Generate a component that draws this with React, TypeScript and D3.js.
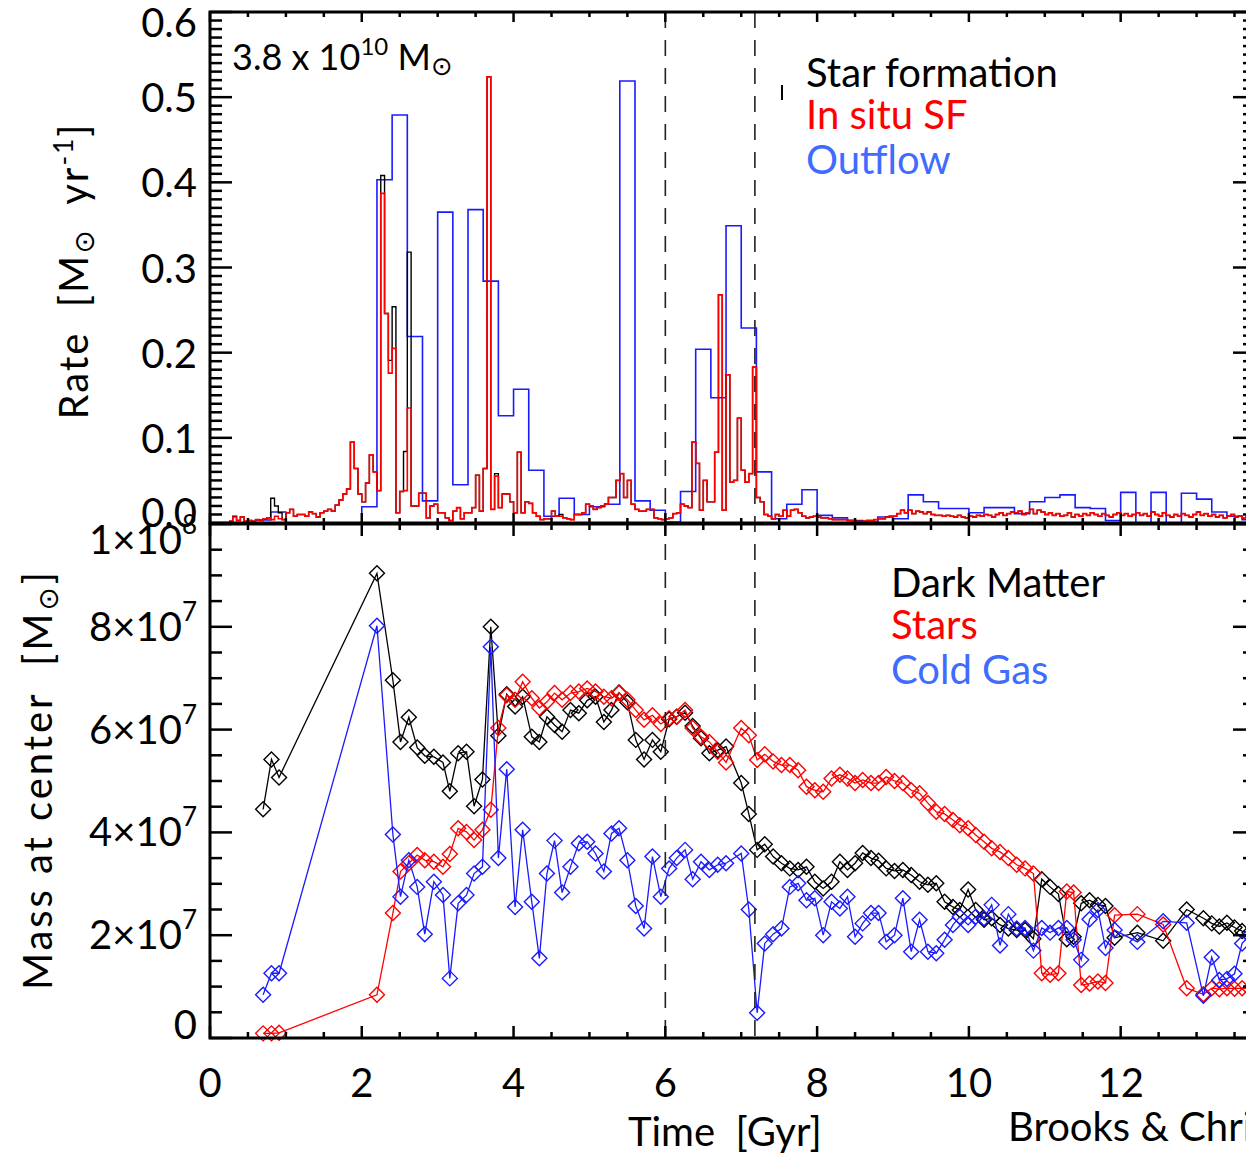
import * as d3 from 'd3';

// ---- top panel: rates [Msun/yr] ----
// star formation histograms, 0.05 Gyr bins starting at 0.25 Gyr
const sfStart = 0.25;
const sfBin = 0.05;
const inSituSF = [
  0.002, 0.007, 0.003, 0.007, 0.002, 0.003, 0.002, 0.004, 0.003, 0.005,
  0.006, 0.004, 0.008, 0.005, 0.004, 0.012, 0.016, 0.008, 0.010, 0.010,
  0.008, 0.013, 0.011, 0.007, 0.012, 0.014, 0.016, 0.014, 0.021, 0.027,
  0.034, 0.040, 0.095, 0.064, 0.034, 0.025, 0.047, 0.080, 0.060, 0.038,
  0.387, 0.246, 0.176, 0.205, 0.012, 0.037, 0.038, 0.135, 0.020, 0.020,
  0.035, 0.035, 0.006, 0.020, 0.022, 0.012, 0.012, 0.006, 0.003, 0.014,
  0.018, 0.005, 0.012, 0.012, 0.018, 0.056, 0.014, 0.064, 0.524, 0.016,
  0.055, 0.018, 0.034, 0.034, 0.025, 0.012, 0.083, 0.012, 0.025, 0.023,
  0.012, 0.008, 0.004, 0.005, 0.005, 0.014, 0.008, 0.008, 0.006, 0.005,
  0.004, 0.010, 0.010, 0.012, 0.022, 0.020, 0.016, 0.018, 0.020, 0.022,
  0.030, 0.030, 0.050, 0.058, 0.030, 0.050, 0.022, 0.016, 0.014, 0.014,
  0.016, 0.016, 0.006, 0.005, 0.004, 0.005, 0.006, 0.011, 0.012, 0.022,
  0.020, 0.018, 0.095, 0.070, 0.015, 0.050, 0.025, 0.025, 0.083, 0.268,
  0.015, 0.174, 0.048, 0.050, 0.123, 0.062, 0.048, 0.058, 0.183, 0.030,
  0.025, 0.010, 0.008, 0.005, 0.010, 0.008, 0.015, 0.008, 0.015, 0.016,
  0.012, 0.008, 0.006, 0.007, 0.008, 0.007, 0.006, 0.006, 0.005, 0.004,
  0.004, 0.004, 0.004, 0.003, 0.003, 0.002, 0.002, 0.002, 0.003, 0.003,
  0.004, 0.005, 0.005, 0.007, 0.008, 0.008, 0.011, 0.015, 0.012, 0.015,
  0.011, 0.014, 0.013, 0.011, 0.013, 0.010, 0.009, 0.009, 0.008, 0.009,
  0.008, 0.007, 0.009, 0.007, 0.006, 0.008, 0.007, 0.009, 0.008, 0.010,
  0.009, 0.007, 0.010, 0.012, 0.009, 0.011, 0.013, 0.012, 0.014, 0.010,
  0.012, 0.016, 0.011, 0.015, 0.013, 0.010, 0.012, 0.009, 0.011, 0.008,
  0.009, 0.012, 0.007, 0.010, 0.008, 0.011, 0.009, 0.012, 0.010, 0.008,
  0.011, 0.009, 0.007, 0.010, 0.012, 0.009, 0.011, 0.008, 0.010, 0.012,
  0.009, 0.011, 0.008, 0.013, 0.010, 0.008, 0.012, 0.009, 0.007, 0.010,
  0.008, 0.011, 0.009, 0.007, 0.010, 0.013, 0.009, 0.011, 0.008, 0.010,
  0.007, 0.009, 0.006, 0.008, 0.010, 0.007, 0.008, 0.006, 0.007, 0.006,
];
const totalSF = [
  0.002, 0.008, 0.003, 0.007, 0.002, 0.003, 0.002, 0.004, 0.003, 0.005,
  0.006, 0.029, 0.020, 0.012, 0.004, 0.012, 0.016, 0.008, 0.010, 0.010,
  0.008, 0.013, 0.011, 0.007, 0.012, 0.014, 0.016, 0.014, 0.021, 0.027,
  0.034, 0.040, 0.095, 0.064, 0.034, 0.025, 0.047, 0.080, 0.060, 0.038,
  0.408, 0.246, 0.191, 0.254, 0.012, 0.037, 0.084, 0.318, 0.020, 0.020,
  0.035, 0.035, 0.006, 0.020, 0.022, 0.012, 0.012, 0.006, 0.003, 0.014,
  0.018, 0.005, 0.012, 0.012, 0.018, 0.056, 0.014, 0.064, 0.524, 0.016,
  0.058, 0.018, 0.034, 0.034, 0.025, 0.012, 0.083, 0.012, 0.025, 0.023,
  0.012, 0.008, 0.004, 0.005, 0.005, 0.014, 0.008, 0.010, 0.006, 0.005,
  0.004, 0.010, 0.010, 0.012, 0.022, 0.020, 0.016, 0.018, 0.020, 0.022,
  0.030, 0.030, 0.050, 0.058, 0.030, 0.050, 0.022, 0.016, 0.014, 0.014,
  0.016, 0.016, 0.006, 0.005, 0.004, 0.005, 0.006, 0.011, 0.012, 0.022,
  0.020, 0.018, 0.095, 0.070, 0.015, 0.050, 0.025, 0.025, 0.083, 0.268,
  0.015, 0.174, 0.048, 0.050, 0.123, 0.062, 0.048, 0.058, 0.183, 0.030,
  0.025, 0.010, 0.008, 0.005, 0.010, 0.008, 0.015, 0.008, 0.015, 0.016,
  0.012, 0.008, 0.006, 0.007, 0.008, 0.007, 0.006, 0.006, 0.005, 0.004,
  0.004, 0.004, 0.004, 0.003, 0.003, 0.002, 0.002, 0.002, 0.003, 0.003,
  0.004, 0.005, 0.005, 0.007, 0.008, 0.008, 0.011, 0.015, 0.012, 0.015,
  0.011, 0.014, 0.013, 0.011, 0.013, 0.010, 0.009, 0.009, 0.008, 0.009,
  0.008, 0.007, 0.009, 0.007, 0.006, 0.008, 0.007, 0.009, 0.008, 0.010,
  0.009, 0.007, 0.010, 0.012, 0.009, 0.011, 0.013, 0.012, 0.014, 0.010,
  0.012, 0.016, 0.011, 0.015, 0.013, 0.010, 0.012, 0.009, 0.011, 0.008,
  0.009, 0.012, 0.007, 0.010, 0.008, 0.011, 0.009, 0.012, 0.010, 0.008,
  0.011, 0.009, 0.007, 0.010, 0.012, 0.009, 0.011, 0.008, 0.010, 0.012,
  0.009, 0.011, 0.008, 0.013, 0.010, 0.008, 0.012, 0.009, 0.007, 0.010,
  0.008, 0.011, 0.009, 0.007, 0.010, 0.013, 0.009, 0.011, 0.008, 0.010,
  0.007, 0.009, 0.006, 0.008, 0.010, 0.007, 0.008, 0.006, 0.007, 0.006,
];
// outflow histogram, 0.2 Gyr bins starting at 0.6 Gyr
const outStart = 0.6;
const outBin = 0.2;
const outflow = [
  0.0035, 0.013, 0, 0, 0, 0, 0, 0.019, 0.403, 0.479,
  0.219, 0.026, 0.365, 0.045, 0.368, 0.284, 0.126, 0.157, 0.062, 0.008,
  0.029, 0.010, 0.019, 0.022, 0.519, 0.026, 0.015, 0.001, 0.037, 0.204,
  0.147, 0.349, 0.229, 0.060, 0.005, 0.022, 0.039, 0.009, 0.006, 0.003,
  0.001, 0.007, 0.005, 0.033, 0.025, 0.017, 0.017, 0.012, 0.018, 0.018,
  0.011, 0.025, 0.030, 0.033, 0.018, 0.017, 0.003, 0.036, 0, 0.036,
  0, 0.035, 0.028, 0.013, 0.008, 0.004,
];

// ---- bottom panel: mass at center, units of 1e7 Msun ----
const snapTimes = [
  0.70, 0.81, 0.91, 2.20, 2.41, 2.51, 2.62, 2.73, 2.83, 2.95,
  3.07, 3.16, 3.27, 3.38, 3.48, 3.59, 3.70, 3.80, 3.91, 4.02,
  4.12, 4.24, 4.34, 4.44, 4.54, 4.64, 4.75, 4.86, 4.97, 5.08,
  5.19, 5.29, 5.39, 5.50, 5.61, 5.72, 5.83, 5.94, 6.05, 6.15,
  6.26, 6.36, 6.47, 6.58, 6.69, 6.80, 7.00, 7.10, 7.21, 7.31,
  7.42, 7.53, 7.64, 7.75, 7.86, 7.97, 8.08, 8.19, 8.30, 8.40,
  8.50, 8.60, 8.71, 8.81, 8.91, 9.02, 9.13, 9.24, 9.35, 9.46,
  9.57, 9.68, 9.79, 9.88, 9.99, 10.09, 10.20, 10.30, 10.41, 10.52,
  10.63, 10.74, 10.85, 10.96, 11.07, 11.18, 11.29, 11.38, 11.48, 11.59,
  11.70, 11.80, 11.92, 12.22, 12.56, 12.87, 13.09, 13.20, 13.30, 13.40,
  13.50, 13.60, 13.70,
];
const darkMatter = [
  4.45, 5.42, 5.07, 9.04, 6.96, 5.76, 6.24, 5.65, 5.49, 5.47,
  5.36, 4.80, 5.54, 5.57, 4.51, 5.03, 8.00, 5.88, 6.69, 6.45,
  6.64, 5.86, 5.76, 6.25, 6.09, 5.96, 6.38, 6.32, 6.57, 6.64,
  6.15, 6.38, 6.72, 6.53, 5.80, 5.42, 5.80, 5.57, 6.20, 6.25,
  6.33, 6.07, 5.83, 5.54, 5.60, 5.67, 4.96, 4.36, 3.66, 3.77,
  3.53, 3.40, 3.30, 3.27, 3.33, 3.04, 2.91, 3.04, 3.43, 3.27,
  3.40, 3.60, 3.50, 3.45, 3.30, 3.25, 3.27, 3.17, 3.04, 2.98,
  3.01, 2.65, 2.55, 2.49, 2.89, 2.49, 2.30, 2.33, 2.20, 2.13,
  2.10, 2.10, 1.93, 3.09, 2.94, 2.80, 1.92, 1.97, 2.62, 2.68,
  2.59, 2.57, 1.95, 2.05, 1.89, 2.50, 2.33, 2.23, 2.17, 2.24,
  2.15, 2.08, 2.05,
];
const stars = [
  0.09, 0.09, 0.10, 0.84, 2.43, 3.24, 3.40, 3.56, 3.46, 3.43,
  3.33, 3.58, 4.08, 4.01, 3.85, 4.05, 4.44, 6.03, 6.67, 6.58,
  6.93, 6.61, 6.42, 6.54, 6.71, 6.58, 6.71, 6.74, 6.80, 6.74,
  6.64, 6.61, 6.71, 6.58, 6.38, 6.19, 6.28, 6.11, 6.22, 6.25,
  6.38, 6.03, 5.86, 5.76, 5.57, 5.36, 6.03, 5.89, 5.41, 5.52,
  5.38, 5.31, 5.31, 5.21, 4.89, 4.82, 4.79, 5.05, 5.12, 5.05,
  4.96, 5.02, 4.96, 4.96, 5.08, 5.00, 4.96, 4.82, 4.76, 4.57,
  4.40, 4.36, 4.24, 4.14, 4.08, 3.95, 3.82, 3.69, 3.62, 3.50,
  3.37, 3.30, 3.20, 1.26, 1.23, 1.26, 2.85, 2.83, 1.03, 1.06,
  1.10, 1.07, 2.39, 2.41, 2.21, 0.97, 0.85, 0.97, 0.95, 0.97,
  0.96, 0.97, 0.96,
];
const coldGas = [
  0.84, 1.26, 1.26, 8.02, 3.96, 2.75, 3.46, 2.94, 2.02, 3.04,
  2.78, 1.16, 2.62, 2.78, 3.20, 3.33, 7.61, 3.50, 5.23, 2.55,
  4.05, 2.65, 1.55, 3.20, 3.84, 2.83, 3.33, 3.79, 3.82, 3.59,
  3.24, 3.98, 4.08, 3.46, 2.57, 2.13, 3.53, 2.75, 3.30, 3.50,
  3.66, 3.09, 3.43, 3.27, 3.37, 3.40, 3.59, 2.50, 0.49, 1.84,
  2.02, 2.13, 2.94, 3.01, 2.68, 2.72, 2.00, 2.65, 2.52, 2.75,
  1.97, 2.23, 2.43, 2.43, 1.87, 2.00, 2.72, 1.68, 2.30, 1.68,
  1.65, 1.91, 2.20, 2.36, 2.20, 2.36, 2.33, 2.59, 1.80, 2.41,
  2.13, 2.14, 1.70, 2.14, 2.05, 2.14, 2.14, 1.91, 1.52, 2.31,
  2.49, 1.75, 2.10, 1.87, 2.27, 2.24, 0.82, 1.57, 1.13, 1.15,
  1.25, 1.84, 2.00,
];

const timeTicks = [0, 2, 4, 6, 8, 10, 12];
const rateTicks = [0, 0.1, 0.2, 0.3, 0.4, 0.5, 0.6];
const rateLabels = ['0.0', '0.1', '0.2', '0.3', '0.4', '0.5', '0.6'];
const massTicks = [0, 2, 4, 6, 8, 10];
const massLabels: [string, string][] = [
  ['0', ''], ['2×10', '7'], ['4×10', '7'], ['6×10', '7'], ['8×10', '7'], ['1×10', '8'],
];
const eventTimes = [6.0, 7.18];

const FONT = 'Lato, "DejaVu Sans", sans-serif';
const SUN = '"DejaVu Sans"';
const RED = '#ff0000';
const BLUE = '#1a1aff';
const LEGEND_BLUE = '#3f6cff';
const FS = 40;

const x = d3.scaleLinear().domain([0, 13.77]).range([210, 1255]);
const yRate = d3.scaleLinear().domain([0, 0.6]).range([523, 12]);
const yMass = d3.scaleLinear().domain([0, 10]).range([1038, 524]);

function stepPath(start: number, width: number, values: number[]) {
  const pts: [number, number][] = values.map((v, i) => [start + i * width, v]);
  pts.push([start + values.length * width, values[values.length - 1]]);
  return d3
    .line<[number, number]>()
    .x((d) => x(d[0]))
    .y((d) => yRate(d[1]))
    .curve(d3.curveStepAfter)(pts) as string;
}

function massLine(vals: number[]) {
  return d3
    .line<number>()
    .x((_, i) => x(snapTimes[i]))
    .y((d) => yMass(d))(vals) as string;
}

function Diamonds({ vals, color }: { vals: number[]; color: string }) {
  const r = 7.5;
  return (
    <g fill="none" stroke={color} strokeWidth={1.4}>
      {vals.map((v, i) => {
        const cx = x(snapTimes[i]);
        const cy = yMass(v);
        return (
          <path
            key={i}
            d={`M${cx},${cy - r}L${cx + r},${cy}L${cx},${cy + r}L${cx - r},${cy}Z`}
          />
        );
      })}
    </g>
  );
}

function Frame({ y0, y1, major, minor, yScale, xTickIn }: any) {
  const xl = 210;
  const xr = 1255;
  const xMinor = d3.range(0, 13.76, 0.5);
  return (
    <g stroke="#000" fill="none">
      <rect x={xl} y={y0} width={xr - xl} height={y1 - y0} strokeWidth={3} />
      {xMinor.map((t) => {
        const big = timeTicks.includes(t);
        const len = big ? xTickIn[1] : xTickIn[0];
        return (
          <g key={t} strokeWidth={2.5}>
            <line x1={x(t)} x2={x(t)} y1={y1} y2={y1 - len} />
            <line x1={x(t)} x2={x(t)} y1={y0} y2={y0 + len} />
          </g>
        );
      })}
      {minor.map((v: number) => {
        const big = major.some((m: number) => Math.abs(m - v) < 1e-6);
        const len = big ? 22 : 12;
        return (
          <g key={v} strokeWidth={2.5}>
            <line x1={xl} x2={xl + len} y1={yScale(v)} y2={yScale(v)} />
            <line x1={xr} x2={xr - len} y1={yScale(v)} y2={yScale(v)} />
          </g>
        );
      })}
    </g>
  );
}

export default function App() {
  const rateMinor = d3.range(0, 61).map((i) => i / 100);
  const massMinor = d3.range(0, 21).map((i) => i / 2);
  return (
    <svg
      width={1246}
      height={1154}
      style={{ position: 'absolute', left: 0, top: 0, background: '#fff' }}
      fontFamily={FONT}
    >
      <rect width={1246} height={1154} fill="#fff" />

      {/* top panel histograms */}
      <path d={stepPath(outStart, outBin, outflow)} fill="none" stroke={BLUE} strokeWidth={1.6} />
      <path d={stepPath(sfStart, sfBin, totalSF)} fill="none" stroke="#000" strokeWidth={1.4} />
      <path d={stepPath(sfStart, sfBin, inSituSF)} fill="none" stroke={RED} strokeWidth={1.6} />

      {/* bottom panel mass curves */}
      <path d={massLine(darkMatter)} fill="none" stroke="#000" strokeWidth={1.3} />
      <Diamonds vals={darkMatter} color="#000" />
      <path d={massLine(stars)} fill="none" stroke={RED} strokeWidth={1.3} />
      <Diamonds vals={stars} color={RED} />
      <path d={massLine(coldGas)} fill="none" stroke={BLUE} strokeWidth={1.3} />
      <Diamonds vals={coldGas} color={BLUE} />

      {/* event markers */}
      {eventTimes.map((t) => (
        <line
          key={t}
          x1={x(t)}
          x2={x(t)}
          y1={12}
          y2={1038}
          stroke="#222"
          strokeWidth={1.6}
          strokeDasharray="16 12"
        />
      ))}

      <Frame y0={12} y1={523} major={rateTicks} minor={rateMinor} yScale={yRate} xTickIn={[5, 10]} />
      <Frame y0={524} y1={1038} major={massTicks} minor={massMinor} yScale={yMass} xTickIn={[6, 12]} />

      {/* tick labels */}
      <g fontSize={FS} fill="#000" textAnchor="end">
        {rateTicks.map((v, i) => {
          const shift = i === 0 ? -11 : i === rateTicks.length - 1 ? 10 : 0;
          return (
            <text key={v} x={197} y={yRate(v) + shift} dominantBaseline="central">
              {rateLabels[i]}
            </text>
          );
        })}
        {massTicks.map((v, i) => {
          const shift = i === 0 ? -13 : i === massTicks.length - 1 ? 16 : 0;
          return (
            <text key={v} x={197} y={yMass(v) + shift + 14}>
              {massLabels[i][0]}
              {massLabels[i][1] && (
                <tspan dy={-20} fontSize={26}>
                  {massLabels[i][1]}
                </tspan>
              )}
            </text>
          );
        })}
      </g>
      <g fontSize={FS} fill="#000" textAnchor="middle">
        {timeTicks.map((t) => (
          <text key={t} x={x(t)} y={1097}>
            {t}
          </text>
        ))}
      </g>

      {/* axis titles */}
      <text x={628} y={1146} fontSize={FS} style={{ whiteSpace: 'pre' }}>
        Time  [Gyr]
      </text>
      <text x={1008} y={1141} fontSize={FS}>
        Brooks &amp; Christensen
      </text>
      <text
        transform="translate(88,272) rotate(-90)"
        textAnchor="middle"
        fontSize={FS}
        textLength={295}
        lengthAdjust="spacing"
        style={{ whiteSpace: 'pre' }}
      >
        Rate  [M<tspan fontFamily={SUN} fontSize={28} dy={6}>⊙</tspan>
        <tspan dy={-6}>  yr</tspan>
        <tspan dy={-15} fontSize={26}>-1</tspan>
        <tspan dy={15}>]</tspan>
      </text>
      <text
        transform="translate(52,781) rotate(-90)"
        textAnchor="middle"
        fontSize={FS}
        textLength={418}
        lengthAdjust="spacing"
        style={{ whiteSpace: 'pre' }}
      >
        Mass at center  [M<tspan fontFamily={SUN} fontSize={28} dy={6}>⊙</tspan>
        <tspan dy={-6}>]</tspan>
      </text>

      {/* annotations / legends */}
      <text x={232} y={70} fontSize={36}>
        3.8 x 10<tspan dy={-15} fontSize={24}>10</tspan>
        <tspan dy={15}> M</tspan>
        <tspan fontFamily={SUN} fontSize={26} dy={5}>⊙</tspan>
      </text>
      <line x1={782} x2={782} y1={85} y2={100} stroke="#000" strokeWidth={2} />
      <g fontSize={FS}>
        <text x={806} y={87} fill="#000">Star formation</text>
        <text x={806} y={129} fill={RED}>In situ SF</text>
        <text x={806} y={174} fill={LEGEND_BLUE}>Outflow</text>
        <text x={891} y={597} fill="#000">Dark Matter</text>
        <text x={891} y={639} fill={RED}>Stars</text>
        <text x={891} y={684} fill={LEGEND_BLUE}>Cold Gas</text>
      </g>
    </svg>
  );
}
